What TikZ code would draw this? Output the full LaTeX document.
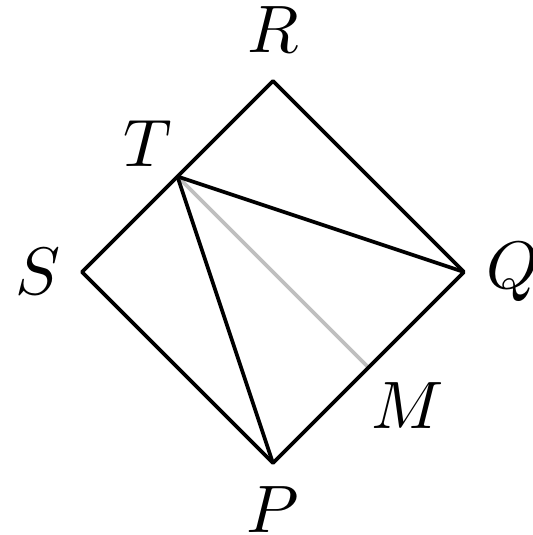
\documentclass[tikz,border=0pt]{standalone}
\usepackage{amsmath}
\usepackage{tikz}
\usetikzlibrary{positioning}

\begin{document}
\begin{tikzpicture}[
    x=1cm, y=1cm,
    lbl/.style={inner sep=0pt},
    edge/.style={line width=0.55pt, line join=round},
    faint/.style={line width=0.55pt, gray!50}
]
    \useasboundingbox (-1.429,-0.377) rectangle (1.361,2.424);

    % Points
    \coordinate (P) at (0,0);
    \coordinate (Q) at (1,1);
    \coordinate (R) at (0,2);
    \coordinate (S) at (-1,1);
    \coordinate (T) at (-0.5,1.5);
    \coordinate (M) at (0.5,0.5);

    % Labels
    \node[lbl, above=4pt of R] (lR) {$R$};
    \node[lbl, above left=1.3pt and 0.6pt of T] (lT) {$T$};
    \node[lbl, left=3pt of S] (lS) {$S$};
    \node[lbl, right=3.2pt of Q] (lQ) {$Q$};
    \node[lbl, below=3.3pt of P] (lP) {$P$};
    \node[lbl, below right=2pt and 0.3pt of M] (lM) {$M$};

    % Lines
    \draw[faint] (T) -- (M);
    \draw[edge] (P) -- (Q) -- (R) -- (S) -- cycle;
    \draw[edge] (T) -- (Q);
    \draw[edge] (T) -- (P);
\end{tikzpicture}
\end{document}
